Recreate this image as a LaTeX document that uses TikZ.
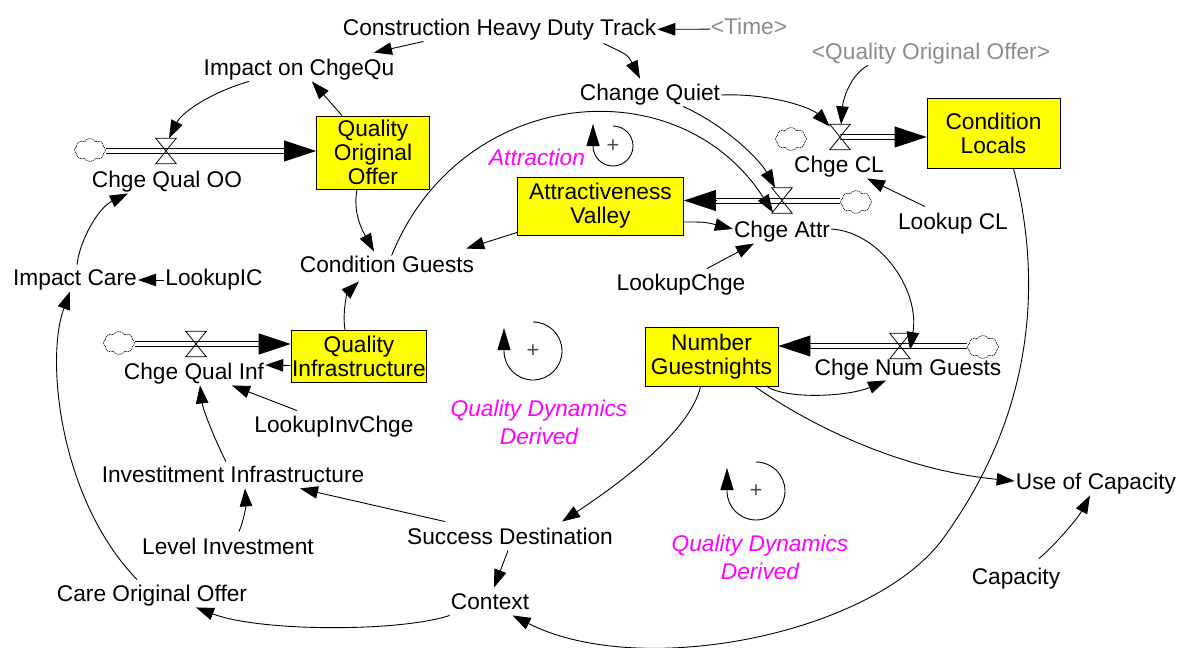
\documentclass[tikz,border=0pt]{standalone}
\usepackage{fontspec}
\setmainfont{Liberation Sans}
\usetikzlibrary{arrows.meta,shapes.symbols}
\definecolor{shadowgray}{RGB}{140,140,140}
\definecolor{loopmag}{RGB}{255,0,255}
\definecolor{stockyellow}{RGB}{255,255,0}
\begin{document}
\begin{tikzpicture}[x=1pt,y=-1pt,
  every node/.style={font=\fontsize{22.7}{24}\selectfont},
  var/.style={inner sep=1pt,text height=16pt,text depth=4.5pt},
  shadowvar/.style={var,text=shadowgray},
  stock/.style={draw,fill=stockyellow,line width=0.9pt,align=center,inner sep=1pt},
  valve/.style={minimum width=20pt,minimum height=25pt,inner sep=0pt},
  cloudy/.style={cloud,cloud puffs=8,cloud puff arc=120,cloud ignores aspect,draw=black!85,dash pattern=on 1.5pt off 0.8pt,line width=0.7pt,minimum width=31pt,minimum height=23pt,inner sep=0pt},
  arr/.style={line width=0.9pt,-{Triangle[length=18pt,width=12.5pt]}},
  pipe/.style={double,double distance=4pt,line width=1pt,shorten >=30pt},
  pipehead/.style={line width=1pt,-{Triangle[length=32pt,width=21pt]}},
  looptxt/.style={text=loopmag,font=\fontsize{22.7}{28}\selectfont\itshape,align=center,inner sep=1pt},
  plus/.style={text=black!70,font=\fontsize{22}{22}\selectfont,inner sep=0pt},
  looparr/.style={line width=0.9pt,-{Triangle[length=22pt,width=13pt]}}
]
\fill[white] (0,0) rectangle (1181,648);
\useasboundingbox (0,0) rectangle (1181,648);

% stocks
\node[stock,minimum width=113pt,minimum height=73pt] (qoo) at (373,152.5) {Quality\\Original\\Offer};
\node[stock,minimum width=133pt,minimum height=70pt] (cl) at (993.5,133) {Condition\\Locals};
\node[stock,minimum width=166pt,minimum height=58pt] (av) at (600.5,206) {Attractiveness\\Valley};
\node[stock,minimum width=135pt,minimum height=52pt] (qi) at (359,356.5) {Quality\\Infrastructure};
\node[stock,minimum width=133pt,minimum height=59pt] (ng) at (711.5,357) {Number\\Guestnights};

% clouds
\node[cloudy] (c1) at (90,150) {};
\node[cloudy] (c2) at (791,139) {};
\node[cloudy] (c3) at (856,202) {};
\node[cloudy] (c4) at (119,343) {};
\node[cloudy] (c5) at (983,347) {};

% valves
\node[valve] (vqoo) at (166,151) {};
\node[valve] (vcl) at (840,137) {};
\node[valve] (vca) at (782,200.5) {};
\node[valve] (vqi) at (196,344) {};
\node[valve] (vng) at (900,346) {};

% pipes
\coordinate (p1) at (vqoo.center -| qoo.west);
\draw[pipe] (vqoo.center -| c1.east) -- (p1);
\draw[pipehead] ([xshift=-32pt]p1) -- (p1);
\coordinate (p2) at (vcl.center -| cl.west);
\draw[pipe] (vcl.center) -- (p2);
\draw[pipehead] ([xshift=-32pt]p2) -- (p2);
\coordinate (p3) at (vca.center -| av.east);
\draw[pipe] (vca.center -| c3.west) -- (p3);
\draw[pipehead] ([xshift=32pt]p3) -- (p3);
\coordinate (p4) at (vqi.center -| qi.west);
\draw[pipe] (vqi.center -| c4.east) -- (p4);
\draw[pipehead] ([xshift=-32pt]p4) -- (p4);
\coordinate (p5) at (vng.center -| ng.east);
\draw[pipe] (vng.center -| c5.west) -- (p5);
\draw[pipehead] ([xshift=32pt]p5) -- (p5);

\foreach \v in {vqoo,vcl,vca,vqi,vng}
  \draw[line width=0.8pt] (\v.north west) -- (\v.north east) -- (\v.south west) -- (\v.south east) -- cycle;

% variables
\node[var] (cht) at (499.5,30) {Construction Heavy Duty Track};
\node[shadowvar] (time) at (749,29) {\textless Time\textgreater};
\node[var] (icq) at (299,70) {Impact on ChgeQu};
\node[var] (cq) at (650,95) {Change Quiet};
\node[shadowvar] (qoos) at (931,54) {\textless Quality Original Offer\textgreater};
\node[var] (tqoo) at (167,182) {Chge Qual OO};
\node[var] (tcl) at (839,167) {Chge CL};
\node[var] (tca) at (782,232) {Chge Attr};
\node[var] (lcl) at (953,224) {Lookup CL};
\node[var] (cg) at (387,267) {Condition Guests};
\node[var] (lc) at (681,285) {LookupChge};
\node[var] (ic) at (75,280) {Impact Care};
\node[var] (lic) at (214,280) {LookupIC};
\node[var] (tqi) at (194,374) {Chge Qual Inf};
\node[var] (liv) at (334,427) {LookupInvChge};
\node[var] (tng) at (908,370) {Chge Num Guests};
\node[var] (ii) at (233,477) {Investitment Infrastructure};
\node[var] (li) at (228,549) {Level Investment};
\node[var] (sd) at (510,539) {Success Destination};
\node[var] (ctx) at (490,604) {Context};
\node[var] (coo) at (152,596) {Care Original Offer};
\node[var] (uoc) at (1096,484) {Use of Capacity};
\node[var] (cap) at (1016,579) {Capacity};

% loops
\node[plus] (l1) at (613,146) {+};
\node[plus] (l2) at (533,351) {+};
\node[plus] (l3) at (756,491) {+};
\draw[looparr] ([yshift=20pt]l1.center) arc[start angle=-90,end angle=180,radius=20] -- ++(0,-22);
\draw[looparr] ([yshift=29pt]l2.center) arc[start angle=-90,end angle=180,radius=29] -- ++(0,-23);
\draw[looparr] ([yshift=29pt]l3.center) arc[start angle=-90,end angle=180,radius=29] -- ++(0,-23);
\node[looptxt] (t1) at (537,157) {Attraction};
\node[looptxt] (t2) at (539,422) {Quality Dynamics\\Derived};
\node[looptxt] (t3) at (760,557) {Quality Dynamics\\Derived};

% connectors
\draw[arr] (time) -- (cht);
\draw[arr] ([xshift=-76pt]cht.south) -- ([xshift=75pt,yshift=6pt]icq.north);
\draw[arr] ([xshift=104pt,yshift=-2pt]cht.south) .. controls (628,55) .. ([xshift=-10pt,yshift=5pt]cq.north);
\draw[arr] ([xshift=-50pt]icq.south) .. controls (212,92) and (182,112) .. ([xshift=3pt]vqoo.north);
\draw[arr] ([xshift=-31pt]qoo.north) -- ([xshift=13pt]icq.south);
\draw[arr] (cq.east) .. controls (770,93) and (812,108) .. (vcl);
\draw[arr] ([xshift=-63pt]qoos.south) .. controls (850,75) and (843,100) .. (vcl);
\draw[arr] ([xshift=33pt]cq.south) .. controls (725,125) and (760,160) .. (vca);
\draw[arr] (cg) .. controls (460,86) and (678,65) .. ([xshift=-9pt,yshift=-12pt]vca.center);
\draw[arr] ([xshift=-16pt]qoo.south) .. controls (352,215) and (365,235) .. ([xshift=-13pt,yshift=4pt]cg.north);
\draw[arr] ([yshift=3pt]av.south west) -- ([xshift=-9pt,yshift=7pt]cg.north east);
\draw[arr] ([yshift=-16pt]av.east) .. controls (705,222) .. ([yshift=3pt]tca.west);
\draw[arr] ([xshift=26pt,yshift=5pt]lc.north) -- ([xshift=-28pt]tca.south);
\draw[arr] ([xshift=-28pt,yshift=6pt]lcl.north) -- ([xshift=28pt]tcl.south);
\draw[arr] (lic) -- (ic);
\draw[arr] ([xshift=2pt,yshift=4pt]ic.north) .. controls (80,240) and (98,208) .. ([xshift=-39pt]tqoo.south);
\draw[arr] ([xshift=-15pt,yshift=5pt]coo.north) .. controls (60,500) and (45,360) .. ([xshift=-5pt]ic.south);
\draw[arr] (ctx.south west) .. controls (400,632) and (260,632) .. ([xshift=44pt]coo.south);
\draw[arr] ([xshift=-2pt]sd.south) -- ([xshift=4pt,yshift=5pt]ctx.north);
\draw[arr] ([xshift=-65pt,yshift=6pt]sd.north) -- ([xshift=67pt]ii.south);
\draw[arr] ([xshift=11pt,yshift=6pt]li.north) .. controls (244,520) and (246,505) .. ([xshift=12pt]ii.south);
\draw[arr] ([xshift=-7pt,yshift=4pt]ii.north) .. controls (215,440) and (203,410) .. ([xshift=6pt]tqi.south);
\draw[arr] ([xshift=-37pt,yshift=5pt]liv.north) -- ([xshift=38pt]tqi.south);
\draw[arr] ([yshift=-9pt]qi.west) -- ([yshift=9pt]tqi.east);
\draw[arr] ([xshift=-14pt]qi.north) .. controls (342,310) and (348,292) .. ([xshift=-28pt,yshift=-3pt]cg.south);
\draw[arr] ([yshift=3pt]tca.east) .. controls (880,232) and (920,290) .. ([xshift=10pt,yshift=-4pt]vng.center);
\draw[arr] ([xshift=-11pt]ng.south east) .. controls (790,400) and (850,396) .. ([xshift=-22pt,yshift=1pt]tng.south);
\draw[arr] ([xshift=-23pt]ng.south east) .. controls (810,425) and (900,470) .. ([yshift=3pt]uoc.west);
\draw[arr] ([xshift=-11pt]ng.south) .. controls (690,430) and (625,480) .. ([xshift=52pt,yshift=6pt]sd.north);
\draw[arr] ([xshift=23pt,yshift=9pt]cap.north) .. controls (1055,545) and (1078,518) .. ([xshift=-6pt]uoc.south);
\draw[arr] ([xshift=20pt]cl.south) .. controls (1045,290) and (1030,420) .. (942,540) .. controls (870,635) and (640,680) .. (ctx);
\end{tikzpicture}
\end{document}
